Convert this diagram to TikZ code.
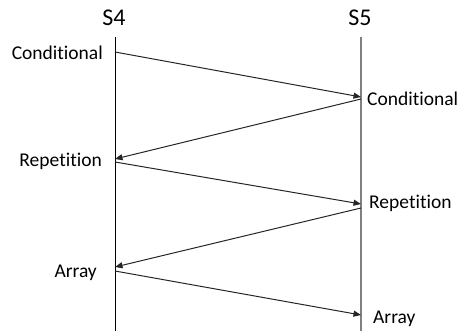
\documentclass[tikz,border=0pt]{standalone}
\usepackage{fontspec}
\setmainfont{Carlito}[Ligatures=NoCommon]
\usetikzlibrary{arrows.meta}
\begin{document}
\begin{tikzpicture}[x=1pt,y=-1pt,
  msg/.style={draw=black!85, line width=1pt, -{Triangle[length=7.5pt,width=6pt]}},
  lbl/.style={font=\fontsize{19.5}{22}\selectfont, inner sep=0pt},
  head/.style={font=\fontsize{24}{28}\selectfont, inner sep=0pt, anchor=base}]
\useasboundingbox (0,0) rectangle (462,331);
% lifelines
\coordinate (l4t) at (115,37); \coordinate (l4b) at (115,331);
\coordinate (l5t) at (361,37); \coordinate (l5b) at (361,331);
\draw[line width=1pt] (l4t) -- (l4b);
\draw[gray, line width=1.3pt] (l5t) -- (l5b);
\node[head] (s4) at (114,26) {S4};
\node[head] (s5) at (360,26) {S5};
% message points
\coordinate (a1s) at (115,52);  \coordinate (a1e) at (361,97);
\coordinate (a2s) at (361,99);  \coordinate (a2e) at (115,159);
\coordinate (a3s) at (115,162); \coordinate (a3e) at (361,204);
\coordinate (a4s) at (361,208); \coordinate (a4e) at (115,267);
\coordinate (a5s) at (115,271); \coordinate (a5e) at (361,315);
\draw[msg] (a1s) -- (a1e);
\draw[msg] (a2s) -- (a2e);
\draw[msg] (a3s) -- (a3e);
\draw[msg] (a4s) -- (a4e);
\draw[msg] (a5s) -- (a5e);
% labels
\node[lbl, anchor=base east] (c4) at (103,60) {Conditional};
\node[lbl, anchor=base west] (c5) at (367,106) {Conditional};
\node[lbl, anchor=base east] (r4) at (102,166) {Repetition};
\node[lbl, anchor=base west] (r5) at (369,208) {Repetition};
\node[lbl, anchor=base east] (y4) at (97,277) {Array};
\node[lbl, anchor=base west] (y5) at (373,323) {Array};
\end{tikzpicture}
\end{document}
